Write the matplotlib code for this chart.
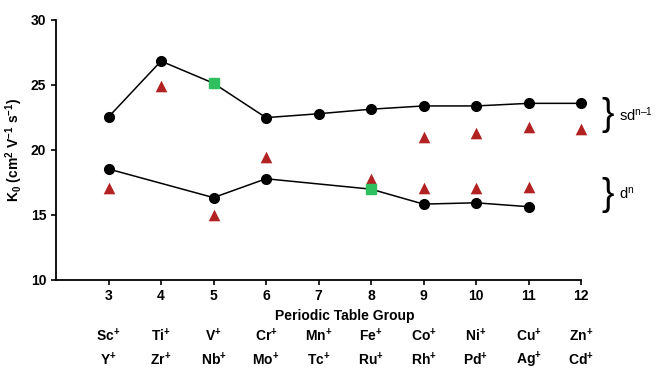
import matplotlib
matplotlib.use("Agg")
import matplotlib.pyplot as plt

plt.rcParams['font.family'] = ['Liberation Sans', 'DejaVu Sans']
plt.rcParams['mathtext.fontset'] = 'custom'
plt.rcParams['mathtext.rm'] = 'Liberation Sans'
plt.rcParams['mathtext.bf'] = 'Liberation Sans:bold'
plt.rcParams['mathtext.default'] = 'bf'

# sd^(n-1) configuration (upper line)
sd_groups = [3, 4, 5, 6, 7, 8, 9, 10, 11, 12]
sd_k0 = [22.5, 26.8, 25.1, 22.45, 22.75, 23.1, 23.35, 23.35, 23.55, 23.55]
sd_square_groups = [5]

# d^n configuration (lower line)
d_groups = [3, 5, 6, 8, 9, 10, 11]
d_k0 = [18.5, 16.3, 17.75, 16.95, 15.8, 15.9, 15.6]
d_square_groups = [8]

# triangles
tri_groups = [3, 4, 5, 6, 8, 9, 9, 10, 10, 11, 11, 12]
tri_k0 = [17.05, 24.9, 15.0, 19.4, 17.75, 20.95, 17.05, 21.25, 17.05, 21.75, 17.15, 21.55]

row1 = ["Sc", "Ti", "V", "Cr", "Mn", "Fe", "Co", "Ni", "Cu", "Zn"]
row2 = ["Y", "Zr", "Nb", "Mo", "Tc", "Ru", "Rh", "Pd", "Ag", "Cd"]
ticks = [3, 4, 5, 6, 7, 8, 9, 10, 11, 12]

fig = plt.figure(figsize=(6.56, 3.70), dpi=100)
ax = fig.add_axes([56 / 656, (370 - 279.5) / 370, (581 - 56) / 656, 260 / 370])

red = "#b22222"
green = "#2ec05e"

ax.scatter(tri_groups, tri_k0, marker="^", s=70, color=red, zorder=2, linewidths=0,
           clip_on=False)

for gx, gy, sq in [(sd_groups, sd_k0, sd_square_groups), (d_groups, d_k0, d_square_groups)]:
    ax.plot(gx, gy, color="black", lw=1.1, zorder=3, clip_on=False)
    cx = [x for x in gx if x not in sq]
    cy = [y for x, y in zip(gx, gy) if x not in sq]
    sx = [x for x in gx if x in sq]
    sy = [y for x, y in zip(gx, gy) if x in sq]
    ax.plot(cx, cy, "o", color="black", ms=7, zorder=4, clip_on=False)
    ax.plot(sx, sy, "s", color=green, ms=6.5, zorder=4, clip_on=False)

ax.set_xlim(2, 12)
ax.set_ylim(10, 30)
ax.set_xticks(ticks)
ax.set_yticks([10, 15, 20, 25, 30])
ax.tick_params(labelsize=10, width=1.2, length=3.5)
for lab in ax.get_xticklabels() + ax.get_yticklabels():
    lab.set_fontweight("bold")
for s in ["top", "right"]:
    ax.spines[s].set_visible(False)
for s in ["left", "bottom"]:
    ax.spines[s].set_linewidth(1.3)

ax.set_ylabel(r"K$_0$ (cm$^2$ V$^{-1}$ s$^{-1}$)", fontsize=10, fontweight="bold", labelpad=4)

tr = ax.get_xaxis_transform()
ax.text(7.5, -0.14, "Periodic Table Group", transform=tr, ha="center", va="center",
        fontsize=10, fontweight="bold")
for x, a, b in zip(ticks, row1, row2):
    ax.text(x, -0.215, a + r"$^{+}$", transform=tr, ha="center", va="center",
            fontsize=10, fontweight="bold")
    ax.text(x, -0.31, b + r"$^{+}$", transform=tr, ha="center", va="center",
            fontsize=10, fontweight="bold")

# braces
ax.text(12.5, 22.65, "}", fontsize=27, ha="center", va="center", clip_on=False)
ax.text(12.72, 22.65, "sd$^{\\mathrm{n\u20131}}$", fontsize=10.5, ha="left", va="center")
ax.text(12.5, 16.5, "}", fontsize=27, ha="center", va="center", clip_on=False)
ax.text(12.72, 16.6, r"d$^{\mathrm{n}}$", fontsize=10.5, ha="left", va="center")

fig.savefig("out.png", dpi=100)
